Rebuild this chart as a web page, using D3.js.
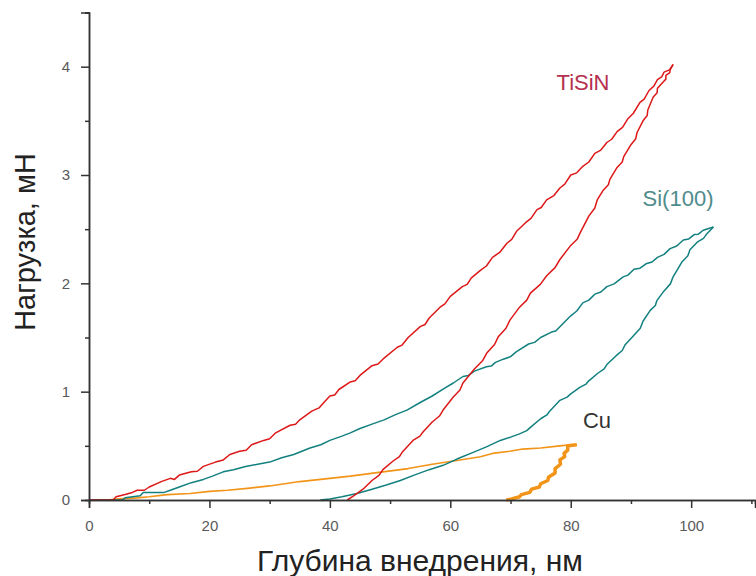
<!DOCTYPE html>
<html><head><meta charset="utf-8">
<script src="https://cdn.jsdelivr.net/npm/d3@7"></script>
<style>body{margin:0;background:#fff}svg{display:block}</style>
</head><body><svg id="c" width="756" height="576"></svg>
<script>
const xTicks = [0,20,40,60,80,100];
const yTicks = [0,1,2,3,4];
const seriesNames = ["TiSiN","Si(100)","Cu"];
const tisinLoad = [[0,0],[4,0],[4.5,0.03],[6,0.05],[7.2,0.07],[8,0.09],[9.2,0.09],[10,0.12],[12,0.17],[13.5,0.2],[14.2,0.19],[15,0.23],[17,0.26],[18,0.265],[19,0.31],[21,0.35],[22.3,0.37],[23.4,0.42],[25,0.45],[26.1,0.46],[27,0.51],[29,0.55],[30,0.565],[31,0.62],[33.4,0.69],[34.3,0.7],[35,0.74],[37,0.82],[38.2,0.85],[39,0.9],[40,0.96],[40.8,0.97],[41.5,1.02],[43.4,1.09],[44.2,1.1],[45,1.15],[47,1.24],[48,1.255],[49,1.31],[51.2,1.41],[52,1.43],[53,1.5],[55,1.6],[55.8,1.62],[56.5,1.68],[58.3,1.78],[59.1,1.81],[60,1.88],[62,1.97],[62.8,1.99],[63.5,2.05],[65,2.12],[66,2.16],[67,2.24],[68.2,2.285],[69.4,2.37],[70.2,2.405],[71,2.48],[72.5,2.56],[73.4,2.6],[74.4,2.68],[75.1,2.7],[76,2.77],[77.2,2.81],[78.2,2.88],[79,2.915],[80,3.0],[81,3.02],[82,3.08],[83,3.12],[84,3.2],[85,3.23],[86,3.3],[86.8,3.33],[87.7,3.4],[88.6,3.44],[89.5,3.52],[90.4,3.57],[91.5,3.67],[92.2,3.7],[93,3.78],[93.8,3.82],[94.4,3.88],[95.1,3.905],[95.5,3.95],[96.4,3.97],[97,4.02]];
const tisinUnload = [[97,4.02],[96.5,3.97],[96.45,3.945],[95.8,3.92],[95.8,3.885],[95.2,3.85],[94.4,3.8],[94.35,3.76],[93.7,3.72],[92.8,3.6],[92.7,3.55],[92,3.5],[91,3.39],[90.8,3.335],[90,3.28],[88.8,3.17],[88.55,3.12],[87.7,3.07],[86.5,2.96],[86.25,2.91],[85.4,2.86],[84.4,2.77],[84,2.695],[83,2.62],[81.6,2.47],[81.1,2.41],[80,2.35],[78.2,2.22],[77.4,2.145],[76,2.07],[74.95,1.99],[73.3,1.91],[72.7,1.845],[71.5,1.78],[69.9,1.66],[69.25,1.585],[68,1.51],[67.35,1.435],[66.1,1.36],[65.35,1.285],[64,1.21],[62.1,1.08],[61.6,1.015],[60.5,0.95],[58.8,0.83],[58.2,0.775],[57,0.72],[55.5,0.63],[54.95,0.59],[53.8,0.55],[52,0.44],[51.55,0.4],[50.5,0.36],[48.8,0.28],[48.2,0.23],[47,0.18],[45.5,0.1],[44,0.04],[42.9,0]];
const siLoad = [[0,0],[5.5,0],[6,0.02],[8.5,0.04],[9,0.07],[12.5,0.07],[13.5,0.09],[15,0.12],[17,0.16],[19,0.19],[20.5,0.22],[22.3,0.26],[24,0.28],[26,0.31],[28,0.33],[30,0.35],[32,0.39],[34,0.42],[36.7,0.48],[38.5,0.51],[40,0.55],[42,0.59],[43.4,0.62],[45,0.66],[47,0.7],[49,0.74],[51,0.79],[52.8,0.83],[55,0.9],[57,0.96],[59,1.03],[60.5,1.08],[62.1,1.14],[63,1.15],[64,1.19],[66,1.23],[66.8,1.236],[67.5,1.27],[68.8,1.3],[70,1.323],[71,1.37],[73,1.44],[74,1.455],[75,1.5],[76.8,1.55],[77.5,1.56],[78.2,1.6],[80,1.7],[81,1.745],[82,1.82],[83,1.845],[84,1.9],[85,1.92],[86,1.97],[87.2,1.995],[88.7,2.06],[89.5,2.076],[90.5,2.13],[91.5,2.14],[92.5,2.18],[93.5,2.197],[94.4,2.24],[95.5,2.267],[96.5,2.32],[97.6,2.345],[98.7,2.4],[99.6,2.41],[100.5,2.45],[101.2,2.454],[102,2.49],[103.7,2.52]];
const siUnload = [[103.7,2.52],[102.5,2.45],[102.05,2.415],[101,2.38],[99.8,2.31],[99.45,2.255],[98.5,2.2],[97,2.06],[96.55,1.995],[95.5,1.93],[94.3,1.84],[94.05,1.795],[93.2,1.75],[92,1.65],[91.55,1.585],[90.5,1.52],[89,1.43],[88.55,1.38],[87.5,1.33],[86,1.25],[85.55,1.21],[84.5,1.17],[83,1.1],[82.55,1.07],[81.5,1.04],[80,0.98],[79.4,0.95],[78.2,0.92],[76.5,0.82],[76.05,0.785],[75,0.75],[73.3,0.67],[72.7,0.64],[71.5,0.61],[70,0.58],[68.3,0.55],[66,0.49],[63.8,0.44],[61.6,0.39],[60,0.35],[58.8,0.32],[56.5,0.28],[54,0.23],[51.7,0.18],[49.5,0.14],[47,0.1],[44.5,0.06],[42,0.03],[40,0.01],[38.4,0]];
const cuLoad = [[0,0],[3,0],[5,0.01],[8,0.02],[10,0.03],[13,0.05],[16.8,0.06],[20,0.08],[23,0.09],[26.7,0.11],[30,0.13],[35,0.17],[40,0.2],[43.4,0.22],[48.8,0.26],[53,0.29],[57,0.33],[61.6,0.37],[65,0.4],[67,0.43],[69.9,0.45],[72,0.47],[75,0.48],[78.2,0.5],[80,0.51],[81,0.51]];
const cuUnload = [[81,0.51],[79.5,0.5],[79.5,0.46],[78.9,0.43],[79.0,0.4],[78.2,0.37],[78.3,0.33],[77.4,0.29],[77.4,0.25],[76.3,0.21],[76.2,0.18],[75,0.15],[74.8,0.12],[73.5,0.1],[73.2,0.07],[71.8,0.05],[71.5,0.03],[70.2,0.01],[69.3,0]];

const svg = d3.select("#c");
const x = d3.scaleLinear().domain([0,110.6]).range([89,755]);
const y = d3.scaleLinear().domain([0,4.5]).range([500,12.5]);
const line = d3.line().x(d=>x(d[0])).y(d=>y(d[1]));

const colors = {tisin:"#dd1818", si:"#12807f", cu:"#f29418"};
function draw(data,c,w){ svg.append("path").datum(data).attr("d",line).attr("fill","none").attr("stroke",c).attr("stroke-width",w).attr("stroke-linejoin","round"); }
draw(cuLoad,colors.cu,1.6); draw(cuUnload,colors.cu,3.5);
draw(siLoad,colors.si,1.5); draw(siUnload,colors.si,1.5);
draw(tisinLoad,colors.tisin,1.5); draw(tisinUnload,colors.tisin,1.5);

// axes
const font = "Arial, 'Liberation Sans', sans-serif";
const xa = svg.append("g").attr("transform","translate(0,500)").call(d3.axisBottom(x).tickValues(xTicks).tickSize(8).tickPadding(12).tickFormat(d3.format("d")));
const xm = svg.append("g").attr("transform","translate(0,500)").call(d3.axisBottom(x).tickValues([10,30,50,70,90,110]).tickSize(4).tickFormat(""));
const ya = svg.append("g").attr("transform","translate(89,0)").call(d3.axisLeft(y).tickValues(yTicks).tickSize(8).tickPadding(11).tickFormat(d3.format("d")));
const ym = svg.append("g").attr("transform","translate(89,0)").call(d3.axisLeft(y).tickValues([0.5,1.5,2.5,3.5,4.5]).tickSize(4).tickFormat(""));
[xa,xm,ya,ym].forEach(g=>{g.selectAll("path,line").attr("stroke","#333").attr("stroke-width",1.5); g.selectAll("text").attr("fill","#5a5a5a").style("font-family",font).style("font-size","15px");});

svg.append("text").attr("x",420).attr("y",571).attr("text-anchor","middle").attr("fill","#222").style("font-family",font).style("font-size","30px").text("Глубина внедрения, нм");
svg.append("text").attr("transform","translate(35,242) rotate(-90)").attr("text-anchor","middle").attr("fill","#222").style("font-family",font).style("font-size","29px").text("Нагрузка, мН");

const labels = [{t:seriesNames[0],x:583,y:90,c:"#b5304f"},{t:seriesNames[1],x:678,y:206,c:"#4f8c8c"},{t:seriesNames[2],x:597,y:428,c:"#333"}];
svg.selectAll(".lbl").data(labels).enter().append("text").attr("x",d=>d.x).attr("y",d=>d.y).attr("text-anchor","middle").attr("fill",d=>d.c).style("font-family",font).style("font-size","22px").text(d=>d.t);
</script></body></html>
